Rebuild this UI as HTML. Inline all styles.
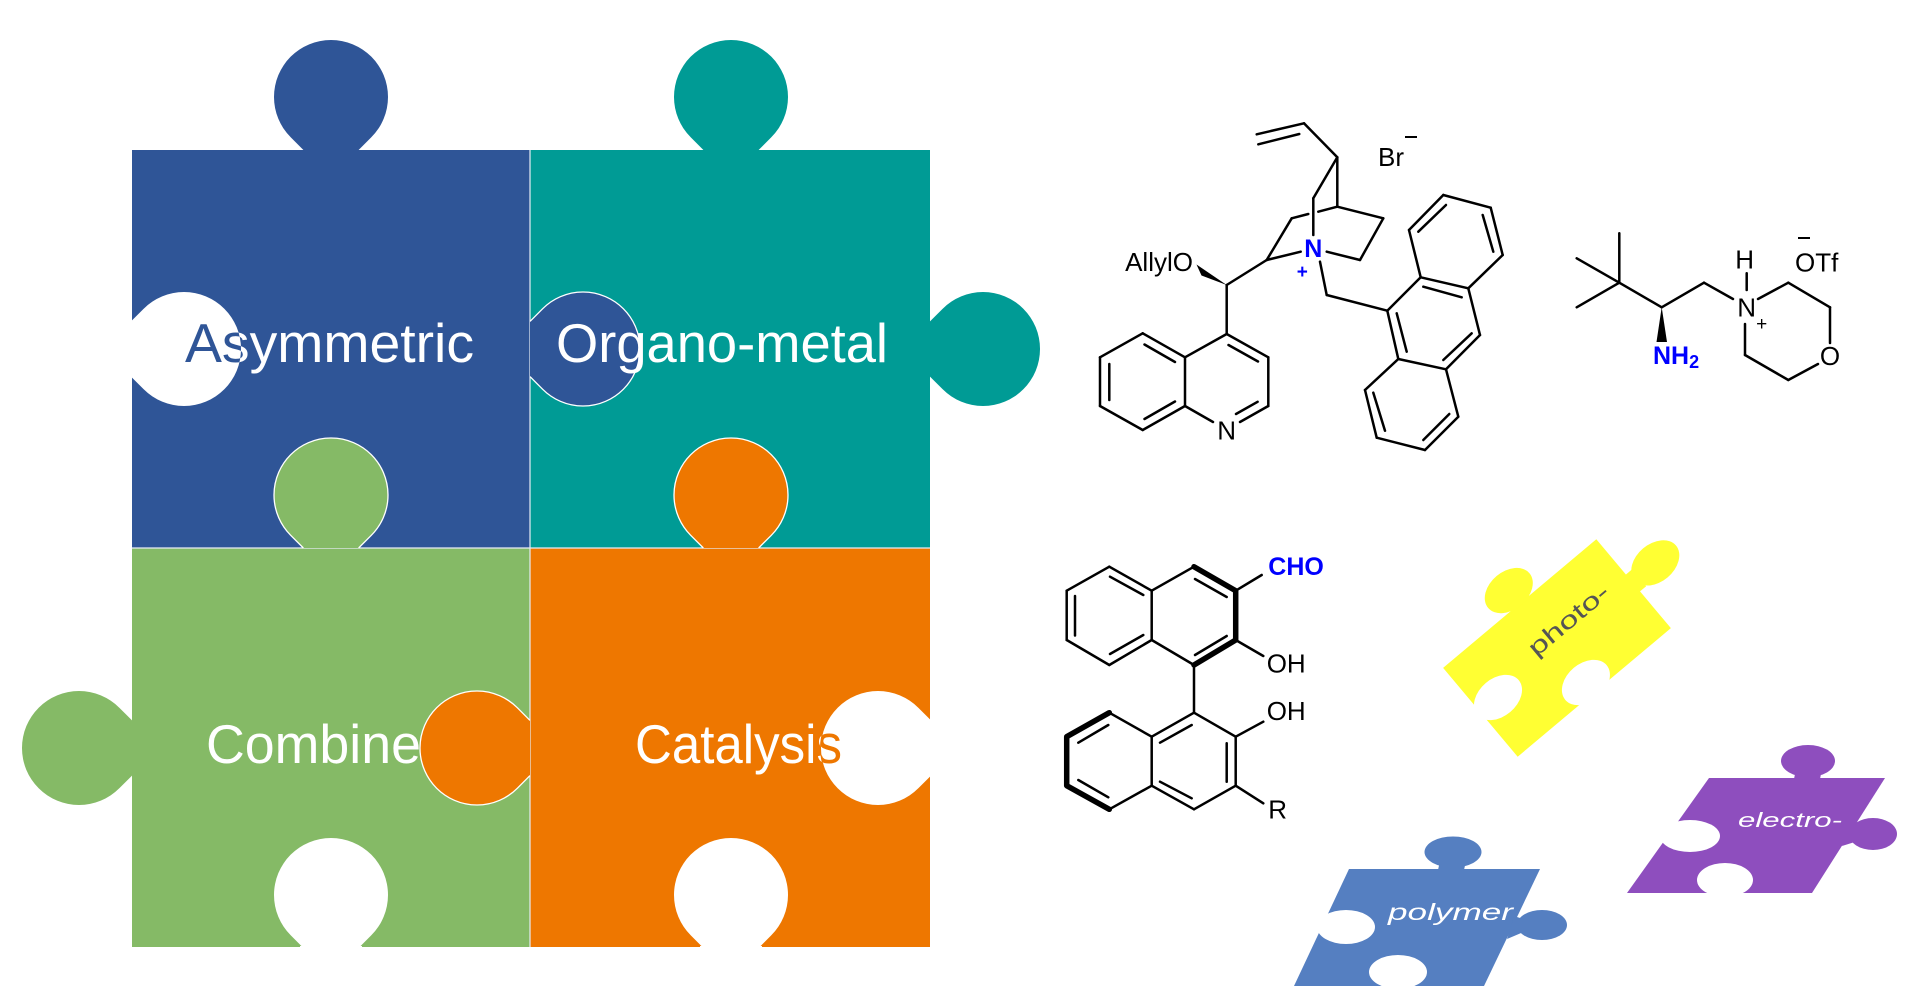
<!DOCTYPE html>
<html><head><meta charset="utf-8"><style>
html,body{margin:0;padding:0;background:#fff;}
svg{display:block;}
</style></head><body>
<svg width="1909" height="1005" viewBox="0 0 1909 1005" xmlns="http://www.w3.org/2000/svg" font-family="'Liberation Sans', sans-serif">
<defs>
<path id="tab" d="M-27.6,0 L-40.3,-12.7 A57 57 0 1 1 40.3,-12.7 L27.6,0"/>
<clipPath id="clipA"><circle cx="184" cy="349" r="57"/></clipPath>
<clipPath id="clipC"><circle cx="877" cy="748" r="57"/></clipPath>
</defs>
<!-- main squares -->
<rect x="132" y="150" width="398" height="398" fill="#2F5597"/>
<rect x="530" y="150" width="400" height="398" fill="#009B95"/>
<rect x="132" y="548" width="398" height="399" fill="#85BA66"/>
<rect x="530" y="548" width="400" height="399" fill="#EE7700"/>
<line x1="530" y1="150" x2="530" y2="947" stroke="#e6ecf5" stroke-width="1.2"/>
<line x1="132" y1="548" x2="930" y2="548" stroke="#e6ecf5" stroke-width="1.2"/>
<!-- outer tabs -->
<use href="#tab" transform="translate(331,150)" fill="#2F5597"/>
<use href="#tab" transform="translate(731,150)" fill="#009B95"/>
<use href="#tab" transform="translate(930,349) rotate(90)" fill="#009B95"/>
<use href="#tab" transform="translate(132,748) rotate(-90)" fill="#85BA66"/>
<!-- inner tabs -->
<use href="#tab" transform="translate(530,349) rotate(90)" fill="#2F5597" stroke="#fff" stroke-width="1.3"/>
<use href="#tab" transform="translate(331,548)" fill="#85BA66" stroke="#fff" stroke-width="1.3"/>
<use href="#tab" transform="translate(731,548)" fill="#EE7700" stroke="#fff" stroke-width="1.3"/>
<use href="#tab" transform="translate(530,748) rotate(-90)" fill="#EE7700" stroke="#fff" stroke-width="1.3"/>
<!-- holes -->
<use href="#tab" transform="translate(131,349) rotate(90)" fill="#fff"/>
<use href="#tab" transform="translate(931,748) rotate(-90)" fill="#fff"/>
<use href="#tab" transform="translate(331,948)" fill="#fff"/>
<use href="#tab" transform="translate(731,948)" fill="#fff"/>
<rect x="300" y="946" width="62" height="4" fill="#fff"/>
<rect x="700" y="946" width="62" height="4" fill="#fff"/>
<!-- labels -->
<g font-size="55" fill="#fff">
<text x="185" y="362" textLength="289" lengthAdjust="spacingAndGlyphs">Asymmetric</text>
<text x="185" y="362" textLength="289" lengthAdjust="spacingAndGlyphs" fill="#2F5597" clip-path="url(#clipA)">Asymmetric</text>
<text x="556" y="362" textLength="332" lengthAdjust="spacingAndGlyphs">Organo-metal</text>
<text x="206" y="763" textLength="215" lengthAdjust="spacingAndGlyphs">Combine</text>
<text x="635" y="763" textLength="207" lengthAdjust="spacingAndGlyphs">Catalysis</text>
<text x="635" y="763" textLength="207" lengthAdjust="spacingAndGlyphs" fill="#EE7700" clip-path="url(#clipC)">Catalysis</text>
</g>

<!-- ===== Quinine-derived salt ===== -->
<g stroke="#000" stroke-width="2.5" stroke-linecap="round" fill="none">
<line x1="1256.7" y1="134.3" x2="1304" y2="123.3"/>
<line x1="1258.3" y1="144.3" x2="1299.3" y2="134"/>
<line x1="1304" y1="123.3" x2="1337.3" y2="157.3"/>
<line x1="1337.3" y1="157.3" x2="1337.3" y2="206.7"/>
<line x1="1337.3" y1="157.3" x2="1313.3" y2="198.3"/>
<line x1="1313.3" y1="198.3" x2="1313.3" y2="235"/>
<line x1="1337.3" y1="206.7" x2="1383.3" y2="218.3"/>
<line x1="1383.3" y1="218.3" x2="1360" y2="260"/>
<line x1="1360" y1="260" x2="1326.7" y2="251.7"/>
<line x1="1266.7" y1="260" x2="1291.7" y2="218.3"/>
<line x1="1291.7" y1="218.3" x2="1308.3" y2="214"/>
<line x1="1318.3" y1="211.7" x2="1337.3" y2="206.7"/>
<line x1="1266.7" y1="260" x2="1300.7" y2="251.7"/>
<line x1="1266.7" y1="260" x2="1226.7" y2="285"/>
<line x1="1226.7" y1="285" x2="1226.7" y2="334"/>
<!-- quinoline -->
<line x1="1226.7" y1="334" x2="1268.3" y2="357.3"/>
<line x1="1268.3" y1="357.3" x2="1268.3" y2="406"/>
<line x1="1268.3" y1="406" x2="1240" y2="422"/>
<line x1="1213" y1="422" x2="1185" y2="406"/>
<line x1="1185" y1="406" x2="1185" y2="357.3"/>
<line x1="1185" y1="357.3" x2="1226.7" y2="334"/>
<line x1="1185" y1="357.3" x2="1142.7" y2="333.3"/>
<line x1="1142.7" y1="333.3" x2="1100" y2="357.3"/>
<line x1="1100" y1="357.3" x2="1100" y2="406"/>
<line x1="1100" y1="406" x2="1142.7" y2="430"/>
<line x1="1142.7" y1="430" x2="1185" y2="406"/>
<line x1="1144.5" y1="344.5" x2="1175" y2="362"/>
<line x1="1109.3" y1="364" x2="1109.3" y2="400"/>
<line x1="1144.5" y1="419" x2="1175" y2="401.5"/>
<line x1="1228.5" y1="345" x2="1258" y2="361.5"/>
<line x1="1257.6" y1="401.8" x2="1236" y2="414"/>
<!-- N+ to anthracene -->
<line x1="1320" y1="261.7" x2="1326.7" y2="295"/>
<line x1="1326.7" y1="295" x2="1387.3" y2="310.7"/>
<!-- anthracene -->
<line x1="1387.3" y1="310.7" x2="1420.7" y2="277.3"/>
<line x1="1420.7" y1="277.3" x2="1409" y2="230"/>
<line x1="1409" y1="230" x2="1443.3" y2="195"/>
<line x1="1443.3" y1="195" x2="1490.7" y2="207.7"/>
<line x1="1490.7" y1="207.7" x2="1502.7" y2="255"/>
<line x1="1502.7" y1="255" x2="1468.3" y2="288.3"/>
<line x1="1468.3" y1="288.3" x2="1420.7" y2="277.3"/>
<line x1="1468.3" y1="288.3" x2="1480" y2="335"/>
<line x1="1480" y1="335" x2="1446" y2="369.3"/>
<line x1="1446" y1="369.3" x2="1398.3" y2="359"/>
<line x1="1398.3" y1="359" x2="1387.3" y2="310.7"/>
<line x1="1446" y1="369.3" x2="1458.3" y2="416.7"/>
<line x1="1458.3" y1="416.7" x2="1425" y2="450"/>
<line x1="1425" y1="450" x2="1376.7" y2="437.7"/>
<line x1="1376.7" y1="437.7" x2="1365" y2="390"/>
<line x1="1365" y1="390" x2="1398.3" y2="359"/>
<line x1="1418.3" y1="231.7" x2="1446" y2="205"/>
<line x1="1482.7" y1="215" x2="1493.3" y2="251.7"/>
<line x1="1423.3" y1="286.7" x2="1461.7" y2="297.3"/>
<line x1="1471.7" y1="333.3" x2="1443.3" y2="360"/>
<line x1="1396.7" y1="313.3" x2="1406.7" y2="351.7"/>
<line x1="1449.3" y1="414" x2="1423.3" y2="440"/>
<line x1="1373.3" y1="392.7" x2="1385" y2="430.7"/>
</g>
<polygon points="1226.7,285 1196.5,264.5 1201.5,275.5" fill="#000"/>
<g font-size="26" fill="#000">
<text x="1193" y="271" text-anchor="end">AllylO</text>
<text x="1226.7" y="439.5" text-anchor="middle">N</text>
<text x="1378" y="166">Br</text>
</g>
<line x1="1405" y1="137" x2="1417" y2="137" stroke="#000" stroke-width="2"/>
<text x="1313.3" y="257" font-size="25" font-weight="bold" fill="#0000FF" text-anchor="middle">N</text>
<text x="1302.3" y="278" font-size="19" font-weight="bold" fill="#0000FF" text-anchor="middle">+</text>

<!-- ===== Amine / morpholinium ===== -->
<g stroke="#000" stroke-width="2.5" stroke-linecap="round" fill="none">
<line x1="1619.3" y1="282.7" x2="1619.3" y2="233.3"/>
<line x1="1619.3" y1="282.7" x2="1576.7" y2="258.3"/>
<line x1="1619.3" y1="282.7" x2="1576.7" y2="307.3"/>
<line x1="1619.3" y1="282.7" x2="1661.7" y2="307.3"/>
<line x1="1661.7" y1="307.3" x2="1704" y2="282.7"/>
<line x1="1704" y1="282.7" x2="1733" y2="299"/>
<line x1="1746.7" y1="273.3" x2="1746.7" y2="290"/>
<line x1="1758" y1="299" x2="1788.3" y2="282.7"/>
<line x1="1788.3" y1="282.7" x2="1830" y2="307.3"/>
<line x1="1830" y1="307.3" x2="1830" y2="343"/>
<line x1="1818" y1="364" x2="1788.3" y2="380"/>
<line x1="1788.3" y1="380" x2="1745" y2="355"/>
<line x1="1745" y1="355" x2="1745" y2="324"/>
</g>
<polygon points="1661.7,307.3 1656.5,342 1667,342" fill="#000"/>
<g font-size="26" fill="#000">
<text x="1746.7" y="316.7" text-anchor="middle">N</text>
<text x="1744.7" y="268.3" text-anchor="middle">H</text>
<text x="1830" y="365" text-anchor="middle">O</text>
<text x="1795" y="271.7">OTf</text>
</g>
<text x="1761.7" y="330" font-size="19" fill="#000" text-anchor="middle">+</text>
<line x1="1798" y1="238" x2="1810" y2="238" stroke="#000" stroke-width="2"/>
<text x="1653" y="364" font-size="25" font-weight="bold" fill="#0000FF">NH<tspan font-size="18" dy="4">2</tspan></text>

<!-- ===== BINOL ===== -->
<g stroke="#000" stroke-width="2.5" stroke-linecap="round" fill="none">
<line x1="1109.3" y1="566.7" x2="1066.7" y2="590.7"/>
<line x1="1066.7" y1="590.7" x2="1066.7" y2="640"/>
<line x1="1066.7" y1="640" x2="1109.3" y2="665"/>
<line x1="1109.3" y1="665" x2="1151.7" y2="640"/>
<line x1="1151.7" y1="640" x2="1151.7" y2="590.7"/>
<line x1="1151.7" y1="590.7" x2="1109.3" y2="566.7"/>
<line x1="1151.7" y1="590.7" x2="1194" y2="566.7"/>
<line x1="1194" y1="665" x2="1151.7" y2="640"/>
<line x1="1110" y1="576.7" x2="1143.3" y2="595"/>
<line x1="1075" y1="596" x2="1075" y2="635.5"/>
<line x1="1110" y1="654" x2="1143.3" y2="635"/>
<line x1="1195" y1="579" x2="1226.7" y2="597"/>
<line x1="1195" y1="655" x2="1226.7" y2="636"/>
<line x1="1235.7" y1="590.7" x2="1261.7" y2="575"/>
<line x1="1235.7" y1="640" x2="1263.3" y2="656"/>
<line x1="1194" y1="665" x2="1194" y2="712.7"/>
<line x1="1194" y1="712.7" x2="1235.7" y2="736.7"/>
<line x1="1235.7" y1="736.7" x2="1235.7" y2="785.7"/>
<line x1="1235.7" y1="785.7" x2="1194" y2="809.3"/>
<line x1="1194" y1="809.3" x2="1151.7" y2="785.7"/>
<line x1="1151.7" y1="785.7" x2="1151.7" y2="736.7"/>
<line x1="1151.7" y1="736.7" x2="1194" y2="712.7"/>
<line x1="1151.7" y1="736.7" x2="1109.3" y2="712.7"/>
<line x1="1109.3" y1="809.3" x2="1151.7" y2="785.7"/>
<line x1="1160" y1="742.7" x2="1191.7" y2="725"/>
<line x1="1226.7" y1="743.3" x2="1226.7" y2="781.7"/>
<line x1="1160" y1="781.7" x2="1191.7" y2="798.3"/>
<line x1="1078.3" y1="742.7" x2="1108.3" y2="725"/>
<line x1="1078.3" y1="780" x2="1108.3" y2="797.3"/>
<line x1="1235.7" y1="736.7" x2="1263.3" y2="721.7"/>
<line x1="1235.7" y1="785.7" x2="1263.3" y2="803.3"/>
</g>
<g stroke="#000" stroke-width="5.5" stroke-linecap="round" stroke-linejoin="round" fill="none">
<polyline points="1194,566.7 1235.7,590.7 1235.7,640 1194,665"/>
<polyline points="1109.3,712.7 1066.7,736.7 1066.7,785.7 1109.3,809.3"/>
</g>
<text x="1268.3" y="575" font-size="25" font-weight="bold" fill="#0000FF">CHO</text>
<g font-size="26" fill="#000">
<text x="1266.7" y="672.7">OH</text>
<text x="1266.7" y="720">OH</text>
<text x="1268.3" y="818.3">R</text>
</g>

<!-- ===== photo- (yellow) ===== -->
<g transform="translate(1557,648) rotate(-40)">
<rect x="-100" y="-58" width="200" height="116" fill="#FFFF33"/>
<ellipse cx="0" cy="-75" rx="27" ry="19" fill="#FFFF33"/>
<rect x="-12" y="-64" width="24" height="8" fill="#FFFF33"/>
<ellipse cx="130" cy="-2" rx="27" ry="19" fill="#FFFF33"/>
<rect x="98" y="-12" width="10" height="22" fill="#FFFF33"/>
<ellipse cx="-77" cy="0" rx="27" ry="19" fill="#fff"/>
<ellipse cx="0" cy="45" rx="27" ry="19" fill="#fff"/>
<text x="-22" y="-6" font-size="24" fill="#555" textLength="98" lengthAdjust="spacingAndGlyphs">photo-</text>
</g>

<!-- ===== electro- (purple) ===== -->
<g fill="#8E4EBE">
<polygon points="1709,778 1885,778 1812,893 1627,893"/>
<ellipse cx="1808" cy="761" rx="27" ry="16"/>
<polygon points="1794,779 1820,779 1822,769 1796,769"/>
<ellipse cx="1873" cy="834" rx="24" ry="16"/>
<polygon points="1847,824 1858,827 1858,841 1842,846"/>
</g>
<ellipse cx="1690" cy="836" rx="30" ry="16" fill="#fff"/>
<ellipse cx="1725" cy="880" rx="28" ry="17" fill="#fff"/>
<text x="1738" y="827" font-size="20" font-style="italic" fill="#fff" textLength="104" lengthAdjust="spacingAndGlyphs">electro-</text>

<!-- ===== polymer (blue) ===== -->
<g fill="#557FC1">
<polygon points="1349,869 1540,869 1484,986 1294,986"/>
<ellipse cx="1453" cy="852" rx="28.5" ry="15.5"/>
<polygon points="1438,870 1464,870 1466,861 1440,861"/>
<ellipse cx="1542" cy="925" rx="25" ry="15"/>
<polygon points="1514,916 1526,920 1526,931 1507,939"/>
</g>
<ellipse cx="1346" cy="927" rx="29" ry="17" fill="#fff"/>
<ellipse cx="1398" cy="972" rx="29" ry="17" fill="#fff"/>
<text x="1388" y="920" font-size="23" font-style="italic" fill="#fff" textLength="125" lengthAdjust="spacingAndGlyphs">polymer</text>
</svg>
</body></html>
